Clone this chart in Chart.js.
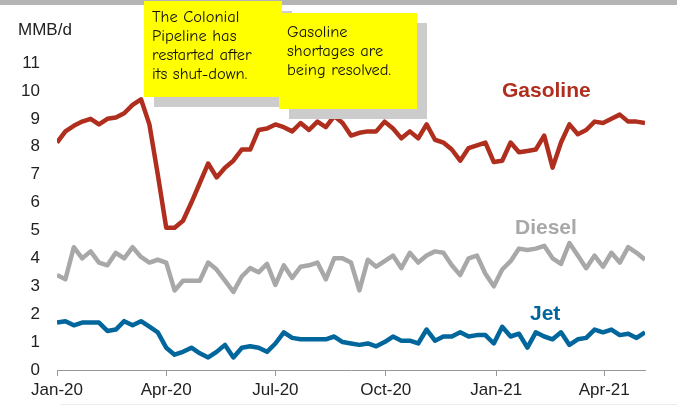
<!DOCTYPE html>
<html>
<head>
<meta charset="utf-8">
<script src="https://cdn.jsdelivr.net/npm/chart.js@4/dist/chart.umd.min.js"></script>
<style>
  html, body { margin: 0; padding: 0; background: #fff; }
  #wrap { position: relative; width: 677px; height: 406px; overflow: hidden; font-family: "Liberation Sans", Arial, sans-serif; }
  #topbar { position: absolute; left: 0; top: 0; width: 677px; height: 5px; background: #b4b4b4; }
  #bottomline { position: absolute; left: 60px; top: 404px; width: 617px; height: 1px; background: #ececec; }
  .note { position: absolute; width: 130px; height: 96px; background: #ffff00; box-shadow: 10px 10px 0 #cccccc;
          font-family: "Comic Sans MS", "Comic Neue", "Open Sans", sans-serif; font-size: 16.5px; line-height: 19px; color: #111;
          padding-left: 8px; box-sizing: content-box; white-space: nowrap; }
  .lbl { position: absolute; font-weight: bold; font-size: 21px; line-height: 24px; white-space: nowrap; }
  #unit { position: absolute; left: 18px; top: 20px; font-size: 17px; color: #222; }
</style>
</head>
<body>
<div id="wrap">
  <div id="topbar"></div>
  <canvas id="chart" width="677" height="406"></canvas>
  <div id="bottomline"></div>
  <div id="unit">MMB/d</div>
  <div class="lbl" style="left:502px; top:78px; color:#b02e1e;">Gasoline</div>
  <div class="lbl" style="left:515px; top:215px; color:#a8a8a8;">Diesel</div>
  <div class="lbl" style="left:530px; top:301px; color:#00669c;">Jet</div>
  <div class="note" style="left:144px; top:1px; padding-top:6px; height:90px;">The Colonial<br>Pipeline has<br>restarted after<br>its shut-down.</div>
  <div class="note" style="left:279px; top:13px; padding-top:9px; height:87px;">Gasoline<br>shortages are<br>being resolved.</div>
</div>
<script>
// weekly product supplied, MMB/d, first week of Jan-20 onward
var gasoline = [8.15, 8.55, 8.75, 8.9, 9.0, 8.8, 9.0, 9.05, 9.2, 9.5, 9.7, 8.8, 7.0, 5.1, 5.1, 5.35, 6.0, 6.7,
    7.4, 6.9, 7.25, 7.5, 7.9, 7.9, 8.6, 8.65, 8.8, 8.7, 8.55, 8.85, 8.6, 8.9, 8.7, 9.1, 8.85, 8.4,
    8.5, 8.55, 8.55, 8.9, 8.65, 8.3, 8.55, 8.3, 8.8, 8.25, 8.15, 7.9, 7.5, 7.95, 8.05, 8.15, 7.45, 7.5,
    8.15, 7.8, 7.85, 7.9, 8.4, 7.25, 8.15, 8.8, 8.45, 8.6, 8.9, 8.85, 9.0, 9.15, 8.9, 8.9, 8.85];
var diesel = [3.4, 3.25, 4.4, 4.0, 4.25, 3.85, 3.75, 4.2, 4.0, 4.4, 4.05, 3.85, 3.95, 3.85, 2.85, 3.2, 3.2, 3.2,
    3.85, 3.6, 3.2, 2.8, 3.35, 3.65, 3.5, 3.8, 3.05, 3.75, 3.3, 3.7, 3.75, 3.85, 3.25, 4.0, 4.0, 3.85,
    2.85, 3.95, 3.7, 3.9, 4.1, 3.65, 4.2, 3.85, 4.1, 4.25, 4.2, 3.75, 3.4, 4.0, 4.1, 3.45, 3.0, 3.6,
    3.9, 4.35, 4.3, 4.35, 4.45, 4.0, 3.8, 4.55, 4.1, 3.65, 4.1, 3.7, 4.2, 3.85, 4.4, 4.2, 3.95];
var jet = [1.7, 1.75, 1.6, 1.7, 1.7, 1.7, 1.4, 1.45, 1.75, 1.6, 1.75, 1.55, 1.35, 0.8, 0.55, 0.65, 0.8, 0.6,
    0.45, 0.65, 0.9, 0.45, 0.8, 0.85, 0.8, 0.65, 0.95, 1.35, 1.15, 1.1, 1.1, 1.1, 1.1, 1.2, 1.0, 0.95,
    0.9, 0.95, 0.85, 1.0, 1.2, 1.05, 1.05, 0.95, 1.45, 1.05, 1.2, 1.2, 1.35, 1.2, 1.25, 1.25, 0.95, 1.55,
    1.2, 1.3, 0.8, 1.35, 1.2, 1.1, 1.35, 0.9, 1.1, 1.15, 1.45, 1.35, 1.45, 1.25, 1.3, 1.15, 1.35];

// x axis: days since 1 Jan 2020
var tickDays = [0, 91, 182, 274, 366, 456];
var tickLabels = ['Jan-20', 'Apr-20', 'Jul-20', 'Oct-20', 'Jan-21', 'Apr-21'];

function weekly(arr) {
    return arr.map(function (v, i) { return { x: i * 7, y: v }; });
}

function line(label, data, color) {
    return {
        label: label,
        data: weekly(data),
        borderColor: color,
        borderWidth: 4.5,
        pointRadius: 0,
        tension: 0,
        fill: false,
        borderJoinStyle: 'round'
    };
}

var tickFont = { family: '"Liberation Sans", Arial, sans-serif', size: 17 };

new Chart(document.getElementById('chart').getContext('2d'), {
    type: 'line',
    data: {
        datasets: [
            line('Diesel', diesel, '#a8a8a8'),
            line('Jet', jet, '#00669c'),
            line('Gasoline', gasoline, '#b02e1e')
        ]
    },
    options: {
        responsive: false,
        animation: false,
        layout: { padding: { top: 63, right: 32, left: 0, bottom: 0 } },
        plugins: { legend: { display: false }, tooltip: { enabled: false } },
        scales: {
            x: {
                type: 'linear',
                min: 0,
                max: 490,
                afterBuildTicks: function (scale) {
                    scale.ticks = tickDays.map(function (d) { return { value: d }; });
                },
                afterFit: function (scale) { scale.height = 36; },
                ticks: {
                    autoSkip: false,
                    maxRotation: 0,
                    padding: 4,
                    color: '#222',
                    font: tickFont,
                    callback: function (v) {
                        var i = tickDays.indexOf(v);
                        return i >= 0 ? tickLabels[i] : '';
                    }
                },
                grid: { drawOnChartArea: false, drawTicks: true, tickLength: 6, color: '#999', lineWidth: 1 },
                border: { display: true, color: '#999', width: 1 }
            },
            y: {
                min: 0,
                max: 11,
                afterFit: function (scale) { scale.width = 57; },
                ticks: { stepSize: 1, padding: 17, color: '#222', font: tickFont },
                grid: { display: false, drawTicks: false },
                border: { display: false }
            }
        }
    }
});
</script>
</body>
</html>
